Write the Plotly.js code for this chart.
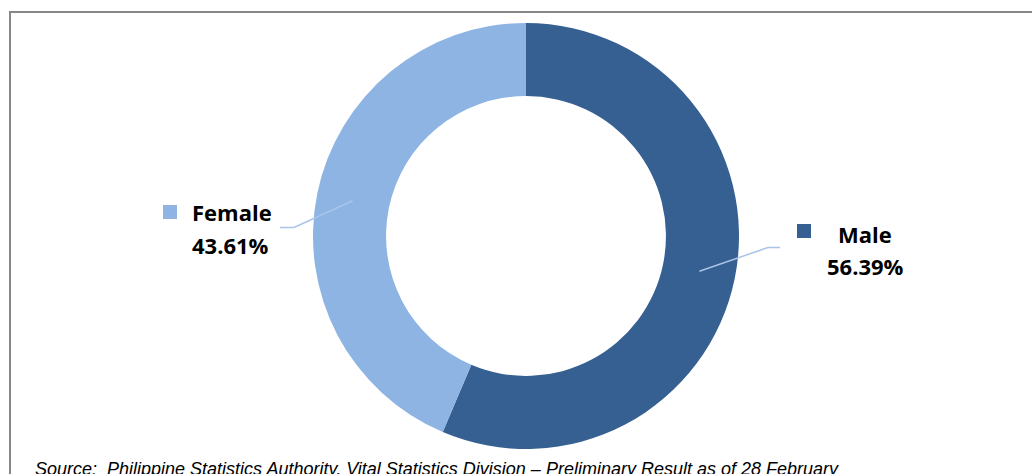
<!DOCTYPE html>
<html>
<head>
<meta charset="utf-8">
<script src="https://cdn.plot.ly/plotly-3.0.1.min.js"></script>
<style>html,body{margin:0;padding:0;background:#fff;}#chart{width:1032px;height:474px;}</style>
</head>
<body>
<div id="chart"></div>
<script>
// ---- data ----
const labels = ['Male', 'Female'];
const values = [56.39, 43.61];
const valueLabels = ['56.39%', '43.61%'];
const colors = ['#366092', '#8EB4E3'];
const sourceText = 'Source:  Philippine Statistics Authority, Vital Statistics Division \u2013 Preliminary Result as of 28 February';

// ---- layout constants (pixels) ----
const W = 1032, H = 474;
const CX = 526, CY = 236, R = 213, HOLE = 0.657;
const px = x => x / W;
const py = y => 1 - y / H;

// label layout per slice: elbow point, line end, text anchor, square
const labelLayout = {
  Male:   {elbow: [768, 247.5], end: [780, 247.5], nameX: 865, nameY: 234, valY: 266, align: 'center', sq: [797, 224]},
  Female: {elbow: [294, 227.5], end: [280, 227.5], nameX: 190, nameY: 212, valY: 245, align: 'left', sq: [163, 205]}
};

const pie = {
  type: 'pie',
  labels: labels,
  values: values,
  sort: false,
  direction: 'clockwise',
  rotation: 0,
  hole: HOLE,
  marker: {colors: colors, line: {width: 0}},
  textinfo: 'none',
  hoverinfo: 'label+percent',
  showlegend: false,
  domain: {x: [px(CX - R), px(CX + R)], y: [py(CY + R), py(CY - R)]}
};

const shapes = [
  // outer frame
  {type: 'rect', xref: 'paper', yref: 'paper', x0: px(10), x1: px(1040), y0: py(490), y1: py(12),
   line: {color: '#878787', width: 2}, fillcolor: 'rgba(0,0,0,0)', layer: 'below'}
];
const annotations = [];

const total = values.reduce((a, b) => a + b, 0);
let cum = 0;
labels.forEach((lab, i) => {
  const frac = values[i] / total;
  const mid = (cum + frac / 2) * 2 * Math.PI; // clockwise from 12 o'clock
  cum += frac;
  const rStart = R * (1 + HOLE) / 2 + 0.5;
  const sx = CX + rStart * Math.sin(mid);
  const sy = CY - rStart * Math.cos(mid);
  const L = labelLayout[lab];
  shapes.push({type: 'path', xref: 'paper', yref: 'paper',
    path: `M ${px(sx)} ${py(sy)} L ${px(L.elbow[0])} ${py(L.elbow[1])} L ${px(L.end[0])} ${py(L.end[1])}`,
    line: {color: '#A9C4E8', width: 1.5}});
  shapes.push({type: 'rect', xref: 'paper', yref: 'paper',
    x0: px(L.sq[0]), x1: px(L.sq[0] + 14), y0: py(L.sq[1] + 14), y1: py(L.sq[1]),
    fillcolor: colors[i], line: {width: 0}});
  const xanchor = L.align === 'center' ? 'center' : 'left';
  annotations.push({xref: 'paper', yref: 'paper', x: px(L.nameX), y: py(L.nameY), xanchor: xanchor, yanchor: 'middle',
    text: '<b>' + lab + '</b>', showarrow: false, font: {family: 'Open Sans', size: 22, color: '#000'}});
  annotations.push({xref: 'paper', yref: 'paper', x: px(L.nameX), y: py(L.valY), xanchor: xanchor, yanchor: 'middle',
    text: '<b>' + valueLabels[i] + '</b>', showarrow: false, font: {family: 'Open Sans', size: 22, color: '#000'}});
});

annotations.push({xref: 'paper', yref: 'paper', x: px(33), y: py(457), xanchor: 'left', yanchor: 'top',
  text: '<i>' + sourceText + '</i>', showarrow: false,
  font: {family: 'Liberation Sans Narrow, Liberation Sans', size: 18, color: '#000'}});

const layout = {
  width: W, height: H,
  margin: {l: 0, r: 0, t: 0, b: 0},
  paper_bgcolor: '#fff', plot_bgcolor: '#fff',
  shapes: shapes,
  annotations: annotations
};

Plotly.newPlot('chart', [pie], layout, {displayModeBar: false, staticPlot: true});
</script>
</body>
</html>
